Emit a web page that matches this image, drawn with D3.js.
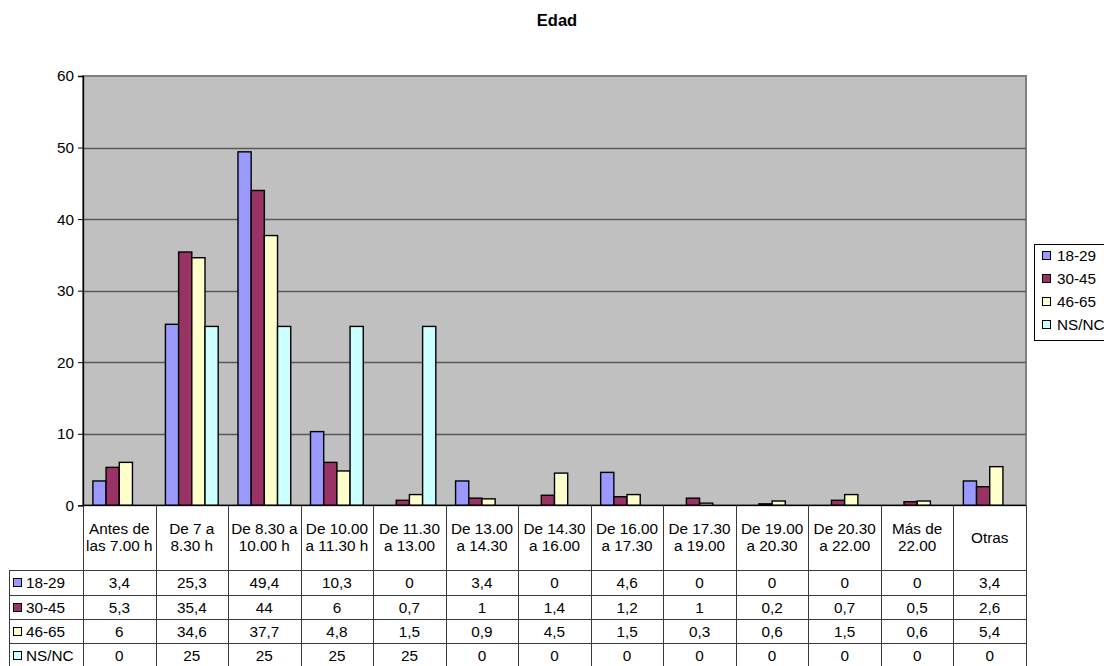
<!DOCTYPE html>
<html>
<head>
<meta charset="utf-8">
<script src="https://cdn.jsdelivr.net/npm/d3@7"></script>
<style>
  html, body { margin: 0; padding: 0; background: #fff; }
  svg { display: block; font-family: "Liberation Sans", Arial, sans-serif; }
</style>
</head>
<body>
<svg id="chart" width="1104" height="666"></svg>
<script>
// ---- Data ----
const title = "Edad";
const categories = [
  ["Antes de", "las 7.00 h"],
  ["De 7 a", "8.30 h"],
  ["De 8.30 a", "10.00 h"],
  ["De 10.00", "a 11.30 h"],
  ["De 11.30", "a 13.00"],
  ["De 13.00", "a 14.30"],
  ["De 14.30", "a 16.00"],
  ["De 16.00", "a 17.30"],
  ["De 17.30", "a 19.00"],
  ["De 19.00", "a 20.30"],
  ["De 20.30", "a 22.00"],
  ["Más de", "22.00"],
  ["Otras"]
];
const seriesNames = ["18-29", "30-45", "46-65", "NS/NC"];
const s1829 = [3.4, 25.3, 49.4, 10.3, 0, 3.4, 0, 4.6, 0, 0, 0, 0, 3.4];
const s3045 = [5.3, 35.4, 44, 6, 0.7, 1, 1.4, 1.2, 1, 0.2, 0.7, 0.5, 2.6];
const s4665 = [6, 34.6, 37.7, 4.8, 1.5, 0.9, 4.5, 1.5, 0.3, 0.6, 1.5, 0.6, 5.4];
const sNSNC = [0, 25, 25, 25, 25, 0, 0, 0, 0, 0, 0, 0, 0];
const seriesValues = [s1829, s3045, s4665, sNSNC];
const seriesColors = ["#9999FF", "#993366", "#FFFFCC", "#CCFFFF"];
const yTicks = [0, 10, 20, 30, 40, 50, 60];

// ---- Layout ----
const svg = d3.select("#chart");
const plotL = 83, plotR = 1026, plotT = 76, plotB = 505.3;
const fontSize = 15.3;

const x = d3.scaleBand().domain(d3.range(categories.length)).range([plotL, plotR]).padding(0);
const catW = x.bandwidth();
const barW = catW / 5.5;
const xs = d3.scaleBand().domain(d3.range(seriesNames.length))
  .range([barW * 0.75, catW - barW * 0.75]).padding(0);
const y = d3.scaleLinear().domain([0, 60]).range([plotB, plotT]);

// Title
svg.append("text").attr("x", 557).attr("y", 26).attr("text-anchor", "middle")
  .attr("font-weight", "bold").attr("font-size", 16.5).text(title);

// Plot background
svg.append("rect").attr("x", plotL).attr("y", plotT).attr("width", plotR - plotL).attr("height", plotB - plotT)
  .attr("fill", "#C0C0C0").attr("stroke", "#808080").attr("stroke-width", 2);

// Gridlines
svg.append("g").selectAll("line").data(yTicks.filter(d => d > 0 && d < 60)).join("line")
  .attr("x1", plotL).attr("x2", plotR)
  .attr("y1", d => Math.round(y(d)) + 0.5).attr("y2", d => Math.round(y(d)) + 0.5)
  .attr("stroke", "#585858").attr("stroke-width", 1.3);

// Bars
const bars = svg.append("g");
seriesValues.forEach((vals, si) => {
  bars.append("g").selectAll("rect").data(vals.map((v, i) => ({ v, i }))).join("rect")
    .filter(d => d.v > 0)
    .attr("x", d => x(d.i) + xs(si))
    .attr("y", d => y(d.v))
    .attr("width", xs.bandwidth())
    .attr("height", d => y(0) - y(d.v))
    .attr("fill", seriesColors[si])
    .attr("stroke", "#000").attr("stroke-width", 1.4);
});

// Y axis
const yAxis = d3.axisLeft(y).tickValues(yTicks).tickSize(5).tickPadding(4).tickFormat(d3.format("d"));
const ya = svg.append("g").attr("transform", `translate(${plotL},0)`).call(yAxis);
ya.select(".domain").attr("stroke", "#000").attr("stroke-width", 1.3);
ya.selectAll(".tick line").attr("stroke", "#000");
ya.selectAll(".tick text").attr("font-size", fontSize).attr("fill", "#000")
  .attr("font-family", "Liberation Sans, Arial, sans-serif");

// X axis line
svg.append("line").attr("x1", plotL).attr("x2", plotR).attr("y1", plotB).attr("y2", plotB)
  .attr("stroke", "#000").attr("stroke-width", 1.3);

// ---- Data table ----
const tbl = svg.append("g");
const headTop = plotB, headBot = 570;
const rowYs = [570, 595, 619, 643, 667];
const tableL = 9;
const lineCol = "#3a3a3a";

const bounds = d3.range(categories.length).map(i => x(i)).concat([plotR]);
tbl.selectAll("line.v").data(bounds).join("line").attr("class", "v")
  .attr("x1", d => Math.round(d) + 0.5).attr("x2", d => Math.round(d) + 0.5)
  .attr("y1", headTop).attr("y2", 666)
  .attr("stroke", lineCol).attr("stroke-width", 1);
tbl.append("line").attr("x1", tableL + 0.5).attr("x2", tableL + 0.5).attr("y1", headBot).attr("y2", 666)
  .attr("stroke", lineCol);
tbl.selectAll("line.h").data(rowYs).join("line").attr("class", "h")
  .attr("x1", tableL).attr("x2", plotR + 0.5)
  .attr("y1", d => d + 0.5).attr("y2", d => d + 0.5)
  .attr("stroke", lineCol);

categories.forEach((lines, i) => {
  const cx = x(i) + catW / 2;
  const n = lines.length;
  const t = tbl.append("text").attr("text-anchor", "middle").attr("font-size", fontSize);
  lines.forEach((ln, k) => {
    t.append("tspan").attr("x", cx).attr("y", 542.5 + (k - (n - 1) / 2) * 17).text(ln);
  });
});

const fmt = v => String(v).replace(".", ",");
seriesNames.forEach((name, si) => {
  const top = rowYs[si], bot = rowYs[si + 1];
  const cy = (top + bot) / 2;
  tbl.append("rect").attr("x", 13.5).attr("y", Math.round(cy - 4.5) + 0.5).attr("width", 8).attr("height", 8)
    .attr("fill", seriesColors[si]).attr("stroke", "#000").attr("stroke-width", 1);
  tbl.append("text").attr("x", 26).attr("y", cy + 5.5).attr("font-size", fontSize).text(name);
  seriesValues[si].forEach((v, i) => {
    tbl.append("text").attr("x", x(i) + catW / 2).attr("y", cy + 5.5)
      .attr("text-anchor", "middle").attr("font-size", fontSize).text(fmt(v));
  });
});

// ---- Legend ----
const lg = svg.append("g");
const lgX = 1034, lgY = 244, lgStep = 23;
lg.append("rect").attr("x", lgX + 0.5).attr("y", lgY + 0.5).attr("width", 120).attr("height", lgStep * 4 + 4)
  .attr("fill", "#fff").attr("stroke", "#000").attr("stroke-width", 1);
seriesNames.forEach((name, si) => {
  const cy = lgY + 11 + si * lgStep;
  lg.append("rect").attr("x", 1042.5).attr("y", Math.round(cy - 4) + 0.5).attr("width", 8).attr("height", 8)
    .attr("fill", seriesColors[si]).attr("stroke", "#000");
  lg.append("text").attr("x", 1057).attr("y", cy + 5.5).attr("font-size", fontSize).text(name);
});
</script>
</body>
</html>
